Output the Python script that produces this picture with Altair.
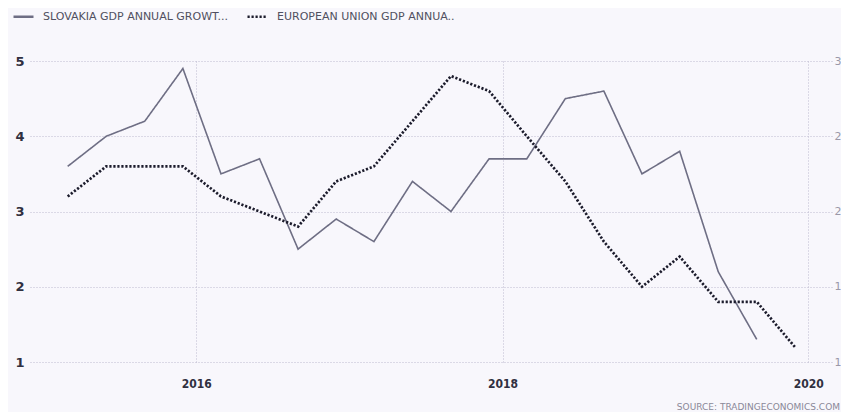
import altair as alt
import pandas as pd

dates = ["2015-02-28", "2015-05-31", "2015-08-31", "2015-11-30",
         "2016-02-29", "2016-05-31", "2016-08-31", "2016-11-30",
         "2017-02-28", "2017-05-31", "2017-08-31", "2017-11-30",
         "2018-02-28", "2018-05-31", "2018-08-31", "2018-11-30",
         "2019-02-28", "2019-05-31", "2019-08-31", "2019-11-30"]
slovakia = [3.6, 4.0, 4.2, 4.9, 3.5, 3.7, 2.5, 2.9, 2.6, 3.4,
            3.0, 3.7, 3.7, 4.5, 4.6, 3.5, 3.8, 2.2, 1.3]
eu = [2.1, 2.3, 2.3, 2.3, 2.1, 2.0, 1.9, 2.2, 2.3, 2.6,
      2.9, 2.8, 2.5, 2.2, 1.8, 1.5, 1.7, 1.4, 1.4, 1.1]
series_names = ["Slovakia GDP Annual Growth Rate", "European Union GDP Annual Growth Rate"]
legend_labels = ["SLOVAKIA GDP ANNUAL GROWT...", "EUROPEAN UNION GDP ANNUA.."]
left_ticks = [1, 2, 3, 4, 5]
right_ticks = [1, 1.5, 2, 2.5, 3]
year_ticks = [2016, 2018, 2020]

df_sk = pd.DataFrame({"date": dates[:len(slovakia)], "value": slovakia, "series": series_names[0]})
df_eu = pd.DataFrame({"date": dates[:len(eu)], "value": eu, "series": series_names[1]})

label_expr = (f"datum.label == '{series_names[0]}' ? '{legend_labels[0]}' : '{legend_labels[1]}'")

color = alt.Color("series:N",
                  scale=alt.Scale(domain=series_names, range=["#6e6e84", "#1c1c2c"]),
                  legend=alt.Legend(title=None, orient="none", direction="horizontal",
                                    legendX=-18, legendY=-56, symbolType="stroke",
                                    symbolSize=400, symbolStrokeWidth=2.4,
                                    labelExpr=label_expr, labelFont="DejaVu Sans",
                                    labelFontSize=11, labelColor="#505060",
                                    labelLimit=300, columnPadding=14, labelOffset=8))
dash = alt.StrokeDash("series:N",
                      scale=alt.Scale(domain=series_names, range=[[1, 0], [2.2, 1.8]]),
                      legend=None)

x_enc = alt.X("date:T",
              scale=alt.Scale(domain=["2014-11-30", "2020-02-29"]),
              axis=alt.Axis(title=None,
                            values=[alt.DateTime(year=y, month=1, date=1) for y in year_ticks],
                            format="%Y", grid=True, gridDash=[1, 2], gridColor="#bebad0",
                            domain=False, ticks=False, labelPadding=16,
                            labelFontSize=12, labelFontWeight="bold", labelColor="#303040",
                            labelFont="DejaVu Sans Condensed"))

sk = alt.Chart(df_sk).mark_line(strokeWidth=1.6).encode(
    x=x_enc,
    y=alt.Y("value:Q", scale=alt.Scale(domain=[1, 5]),
            axis=alt.Axis(title=None, values=left_ticks, grid=True, gridDash=[1, 2],
                          gridColor="#bebad0", domain=False, ticks=False, labelPadding=6,
                          labelFontSize=13, labelFontWeight="bold", labelColor="#303040",
                          labelFont="DejaVu Sans")),
    color=color, strokeDash=dash,
)

euc = alt.Chart(df_eu).mark_line(strokeWidth=2.7).encode(
    x=x_enc,
    y=alt.Y("value:Q", scale=alt.Scale(domain=[1, 3]),
            axis=alt.Axis(title=None, orient="right", values=right_ticks, grid=False,
                          format=".1~f", domain=False, ticks=False, labelPadding=1,
                          labelFontSize=11, labelColor="#9a98a8", labelFont="DejaVu Sans")),
    color=color, strokeDash=dash,
)

chart = alt.layer(sk, euc).resolve_scale(y="independent").properties(
    width=803, height=301,
    autosize=alt.AutoSizeParams(type="none"),
    padding={"left": 22, "top": 53, "right": 8, "bottom": 50},
    background="#f8f7fc",
    title=alt.Title("SOURCE:  TRADINGECONOMICS.COM", orient="bottom", anchor="end",
                    frame="group", fontSize=9, fontWeight="normal", color="#8a8898",
                    offset=14, font="DejaVu Sans", dx=7),
).configure_view(stroke=None)

chart.save("out.html", embed_options={"renderer": "svg", "actions": False})
